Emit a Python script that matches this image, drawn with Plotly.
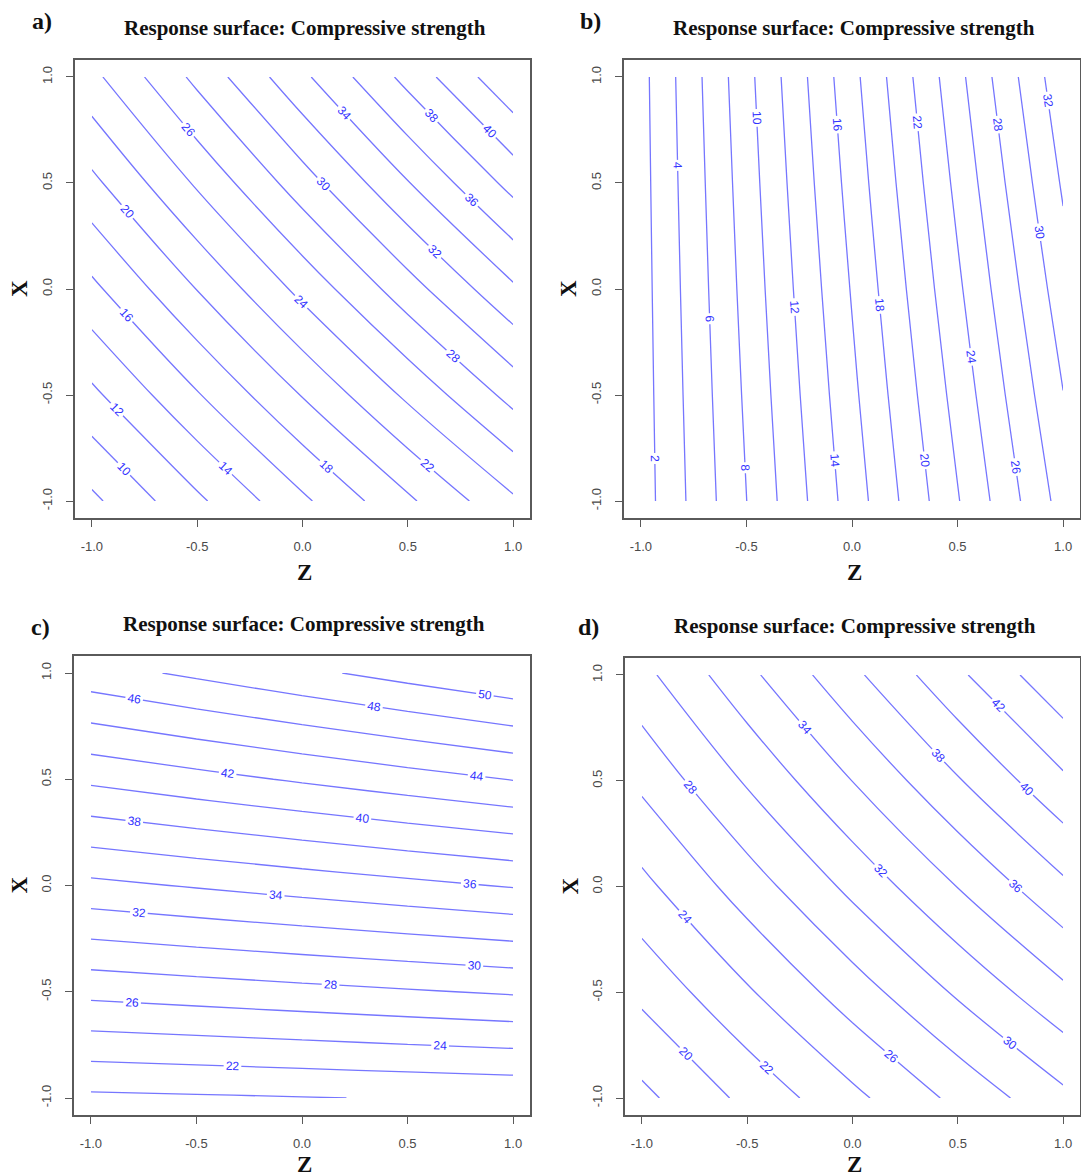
import plotly.graph_objects as go

W, H = 1081, 1176

# ---------------- data ----------------
Z_VALUES = [-1.0, -0.5, 0.0, 0.5, 1.0]          # columns
X_VALUES = [-1.0, -0.5, 0.0, 0.5, 1.0]          # rows
TICK_VALUES = [-1.0, -0.5, 0.0, 0.5, 1.0]
TICK_LABELS = ["-1.0", "-0.5", "0.0", "0.5", "1.0"]

# compressive strength estimated at the grid nodes (rows: X from -1 to 1)
strength_a = [
    [7.57, 11.60, 15.62, 19.65, 23.67],
    [11.55, 15.83, 20.11, 24.39, 28.68],
    [15.52, 20.06, 24.60, 29.14, 33.68],
    [19.50, 24.29, 29.09, 33.89, 38.69],
    [23.47, 28.53, 33.58, 38.64, 43.69],
]
strength_b = [
    [1.04, 7.98, 14.92, 21.86, 28.80],
    [1.12, 8.33, 15.54, 22.74, 29.95],
    [1.20, 8.68, 16.15, 23.63, 31.10],
    [1.28, 9.02, 16.77, 24.51, 32.25],
    [1.36, 9.37, 17.38, 25.39, 33.40],
]
strength_c = [
    [19.60, 19.75, 19.92, 20.11, 20.30],
    [26.56, 26.97, 27.39, 27.81, 28.23],
    [33.51, 34.17, 34.83, 35.49, 36.16],
    [40.40, 41.33, 42.25, 43.17, 44.08],
    [47.20, 48.38, 49.55, 50.73, 51.90],
]
strength_d = [
    [17.50, 20.50, 23.50, 26.50, 29.50],
    [20.48, 23.75, 27.01, 30.28, 33.54],
    [23.46, 26.99, 30.52, 34.05, 37.58],
    [26.44, 30.24, 34.03, 37.83, 41.62],
    [29.42, 33.48, 37.54, 41.60, 45.66],
]
panel_letters = ["a)", "b)", "c)", "d)"]
level_start = [8, 2, 20, 18]
level_end = [42, 32, 50, 44]
LEVEL_STEP = 2
TITLE = "Response surface: Compressive strength"

# ---------------- layout geometry (pixels) ----------------
# plot boxes: (left, top, right, bottom)
boxes = [
    (75, 60, 530, 518),
    (624, 60, 1080, 518),
    (74, 656, 530, 1115),
    (625, 658, 1080, 1115),
]
letter_pos = [(42, 21), (590, 21), (40, 627), (588, 627)]
zlabel_offset = [54, 54, 49, 49]

LINE_COLOR = "rgb(118,118,255)"
LABEL_COLOR = "rgb(50,50,255)"
SERIF = "Liberation Serif, Times New Roman, serif"
SANS = "Liberation Sans, Arial, sans-serif"
AX_COLOR = "#5a5a5a"

def fx(px):
    return px / W

def fy(py):
    return 1 - py / H

fig = go.Figure()
surfaces = [strength_a, strength_b, strength_c, strength_d]
annotations = []

for i, (zgrid, box) in enumerate(zip(surfaces, boxes)):
    n = "" if i == 0 else str(i + 1)
    fig.add_trace(go.Contour(
        x=Z_VALUES, y=X_VALUES, z=zgrid,
        xaxis="x" + n, yaxis="y" + n,
        contours=dict(start=level_start[i], end=level_end[i], size=LEVEL_STEP,
                      coloring="none", showlabels=True,
                      labelfont=dict(family=SANS, size=12, color=LABEL_COLOR)),
        line=dict(width=1.3, smoothing=1, color=LINE_COLOR),
        showscale=False, hoverinfo="skip",
    ))
    l, t, r, b = box
    axis_common = dict(
        range=[-1.08, 1.08], tickvals=TICK_VALUES, ticktext=TICK_LABELS,
        ticks="outside", ticklen=7, tickwidth=1, tickcolor=AX_COLOR,
        showline=True, mirror=True, linecolor=AX_COLOR, linewidth=1.5,
        showgrid=False, zeroline=False,
        tickfont=dict(family=SANS, size=13, color="#4a4a4a"),
        ticklabelstandoff=9, fixedrange=True,
    )
    fig.update_layout(**{
        "xaxis" + n: dict(domain=[fx(l), fx(r)], anchor="y" + n, **axis_common),
        "yaxis" + n: dict(domain=[fy(b), fy(t)], anchor="x" + n, tickangle=-90,
                          **axis_common),
    })
    cx = (l + r) / 2 + 2
    cy = (t + b) / 2
    # title
    annotations.append(dict(text="<b>" + TITLE + "</b>", x=fx(cx), y=fy(t - 32),
                            xref="paper", yref="paper", showarrow=False,
                            xanchor="center", yanchor="middle",
                            font=dict(family=SERIF, size=21, color="#111111")))
    # panel letter
    lx, ly = letter_pos[i]
    annotations.append(dict(text="<b>" + panel_letters[i] + "</b>", x=fx(lx), y=fy(ly),
                            xref="paper", yref="paper", showarrow=False,
                            xanchor="center", yanchor="middle",
                            font=dict(family=SERIF, size=24, color="#111111")))
    # axis labels
    annotations.append(dict(text="<b>Z</b>", x=fx(cx), y=fy(b + zlabel_offset[i]),
                            xref="paper", yref="paper", showarrow=False,
                            xanchor="center", yanchor="middle",
                            font=dict(family=SERIF, size=23, color="#111111")))
    annotations.append(dict(text="<b>X</b>", x=fx(l - 55), y=fy(cy),
                            xref="paper", yref="paper", showarrow=False,
                            xanchor="center", yanchor="middle", textangle=-90,
                            font=dict(family=SERIF, size=23, color="#111111")))

fig.update_layout(
    width=W, height=H, margin=dict(l=0, r=0, t=0, b=0),
    paper_bgcolor="white", plot_bgcolor="white",
    showlegend=False, annotations=annotations,
)

fig.write_html("out.html")
